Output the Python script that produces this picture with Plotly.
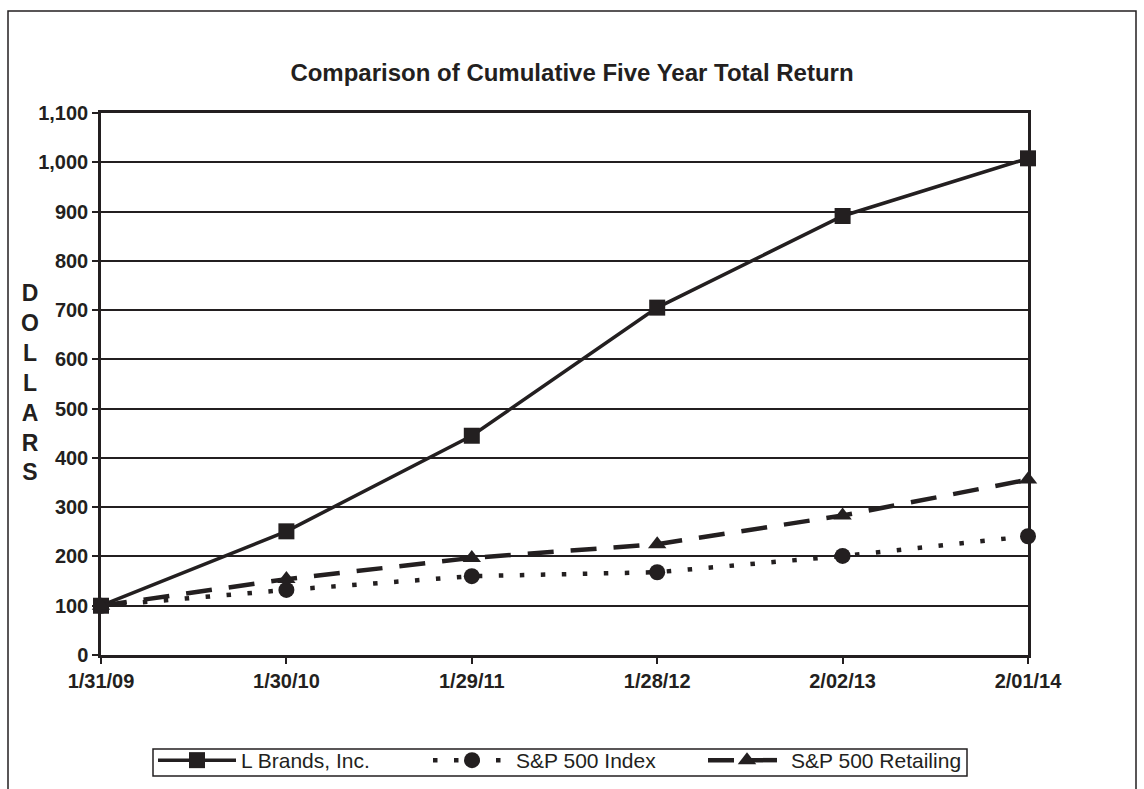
import plotly.graph_objects as go

dates = ["1/31/09", "1/30/10", "1/29/11", "1/28/12", "2/02/13", "2/01/14"]
l_brands = [100, 251, 445, 705, 891, 1008]
sp500 = [100, 132, 160, 168, 201, 241]
sp_retail = [100, 154, 197, 225, 283, 356]
y_ticks = [0, 100, 200, 300, 400, 500, 600, 700, 800, 900, 1000, 1100]
y_tick_labels = ["0", "100", "200", "300", "400", "500", "600", "700", "800", "900", "1,000", "1,100"]

INK = "#231f20"
FONT = "Liberation Sans, Arial, sans-serif"
x_idx = list(range(len(dates)))

fig = go.Figure()
fig.add_trace(go.Scatter(
    x=x_idx, y=l_brands, name="L Brands, Inc.", mode="lines+markers",
    line=dict(color=INK, width=3.5),
    marker=dict(symbol="square", size=16, color=INK),
    cliponaxis=False))
fig.add_trace(go.Scatter(
    x=x_idx, y=sp500, name="S&P 500 Index", mode="lines+markers",
    line=dict(color=INK, width=4.5, dash="4.5px,16.5px"),
    marker=dict(symbol="circle", size=16, color=INK),
    cliponaxis=False))
fig.add_trace(go.Scatter(
    x=x_idx, y=sp_retail, name="S&P 500 Retailing", mode="lines+markers",
    line=dict(color=INK, width=4.5, dash="26px,17px"),
    marker=dict(symbol="triangle-up", size=16, color=INK),
    cliponaxis=False))

fig.update_layout(
    width=1144, height=789,
    margin=dict(l=101, r=116, t=113, b=134, autoexpand=False),
    paper_bgcolor="white", plot_bgcolor="white",
    font=dict(family=FONT, color=INK),
    title=dict(text="<b>Comparison of Cumulative Five Year Total Return</b>",
               x=0.5, xanchor="center", y=1 - 73 / 789, yanchor="middle",
               font=dict(size=24, family=FONT, color=INK)),
    showlegend=True,
    legend=dict(orientation="h", x=(153 - 101) / 927, xanchor="left",
                y=-(740 - 655) / 542, yanchor="top",
                borderwidth=0, bgcolor="rgba(0,0,0,0)",
                font=dict(size=21, family=FONT, color=INK),
                itemwidth=78, entrywidth=182, entrywidthmode="pixels",
                traceorder="normal"),
    xaxis=dict(
        range=[0, 5], tickmode="array", tickvals=x_idx,
        ticktext=[f"<b>{d}</b>" for d in dates],
        ticks="outside", ticklen=6, tickcolor=INK, tickwidth=2,
        showline=True, linecolor=INK, linewidth=2.5, mirror=True,
        showgrid=False, zeroline=False,
        tickfont=dict(size=20, family=FONT, color=INK)),
    yaxis=dict(
        range=[0, 1100], tickmode="array", tickvals=y_ticks,
        ticktext=[f"<b>{t}</b>" for t in y_tick_labels],
        ticks="outside", ticklen=6, tickcolor=INK, tickwidth=2,
        showline=True, linecolor=INK, linewidth=2.5, mirror=True,
        showgrid=True, gridcolor=INK, gridwidth=2, zeroline=False,
        tickfont=dict(size=20, family=FONT, color=INK)),
)

fig.add_annotation(
    text="<b>D<br>O<br>L<br>L<br>A<br>R<br>S</b>",
    xref="paper", yref="paper", x=(29.5 - 101) / 927, y=(655 - 382.5) / 542,
    xanchor="center", yanchor="middle",
    showarrow=False, align="center",
    font=dict(size=23, family=FONT, color=INK))

# outer frame
fig.add_shape(type="rect", xref="paper", yref="paper",
              x0=(8 - 101) / 927, x1=(1136 - 101) / 927,
              y0=-(800 - 655) / 542, y1=(655 - 11) / 542,
              line=dict(color=INK, width=1.5), fillcolor="rgba(0,0,0,0)", layer="below")
# legend box
fig.add_shape(type="rect", xref="paper", yref="paper",
              x0=(153 - 101) / 927, x1=(967 - 101) / 927,
              y0=-(776 - 655) / 542, y1=-(749 - 655) / 542,
              line=dict(color=INK, width=1.5), fillcolor="rgba(0,0,0,0)", layer="below")

fig.write_html("out.html", config={"displayModeBar": False},
               post_script="document.body.style.margin='0';")
